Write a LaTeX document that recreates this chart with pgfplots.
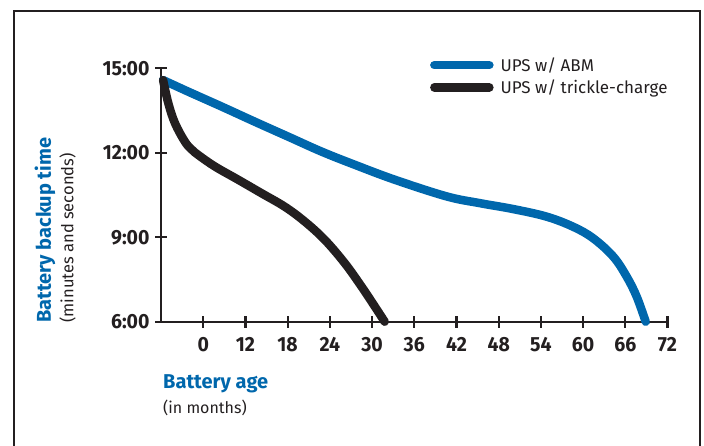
\documentclass[border=0pt]{standalone}
\usepackage{pgfplots}
\pgfplotsset{compat=1.18}
\usepackage{fontspec}
\setmainfont{Fira Sans}
\newfontfamily\condfont{Fira Sans}[FakeStretch=0.95]
\definecolor{abmblue}{RGB}{0,103,172}
\definecolor{ink}{RGB}{35,31,32}
\begin{document}
\begin{tikzpicture}[x=1pt,y=1pt]
\useasboundingbox (0,0) rectangle (704,445);
\draw[ink, line width=2.5pt] (14,-10) -- (14,434) -- (700,434) -- (700,-10);
\begin{axis}[
  at={(161pt,123.3pt)}, anchor=south west,
  scale only axis, width=506.5pt, height=253.4pt,
  xmin=0, xmax=72, ymin=6, ymax=15,
  axis lines=left, axis line style={ink, line width=2.2pt, -},
  xtick={6,12,...,72}, xticklabels={0,12,18,24,30,36,42,48,54,60,66,72},
  ytick={6,9,12,15}, yticklabels={6:00,9:00,12:00,15:00},
  tick align=center, major tick length=12pt,
  tick style={ink, line width=2.2pt},
  ticklabel style={font=\condfont\bfseries\fontsize{20.5}{24}\selectfont, text=ink},
  /pgf/number format/assume math mode=true,
  xticklabel style={yshift=-6pt},
  yticklabel style={xshift=-2pt},
  clip=false,
  legend style={draw=none, fill=none, at={(0.525,1.055)}, anchor=north west,
    font=\fontsize{17}{20}\selectfont, text=ink, row sep=5pt,
    nodes={inner sep=1pt},
    /tikz/every odd column/.append style={column sep=6pt}},
  legend cell align=left,
  legend image code/.code={\draw[#1, line width=8.5pt, line cap=round] (0pt,0pt) -- (55pt,0pt);},
]
\addplot[abmblue, line width=8.5pt, smooth, tension=0.6, line cap=round] coordinates {
 (0.3,14.58) (3.88,14.17) (8.63,13.64) (13.36,13.10) (18.10,12.57) (22.84,12.04)
 (27.58,11.57) (33.26,11.04) (40.61,10.45) (45.34,10.21) (50.08,10.00)
 (54.83,9.73) (58.61,9.37) (61.45,8.96) (64.30,8.31) (66.20,7.60) (67.62,6.89) (68.9,6.0)
};
\addplot[ink, line width=8.5pt, smooth, tension=0.6, line cap=round] coordinates {
 (0.3,14.58) (1.04,13.76) (1.99,13.05) (3.41,12.39) (4.35,12.12) (5.30,11.92) (7.68,11.51)
 (10.99,11.04) (14.31,10.56) (17.62,10.08) (20.47,9.55) (23.31,8.90) (26.15,8.07)
 (28.53,7.24) (30.42,6.53) (31.8,6.0)
};
\legend{UPS w/ ABM, UPS w/ trickle-charge}
\end{axis}
\node[rotate=90, anchor=west, inner sep=0pt, text=abmblue, font=\fontsize{20}{24}\selectfont\bfseries] at (45,122) {Battery backup time};
\node[rotate=90, anchor=west, inner sep=0pt, text=ink, font=\fontsize{16.5}{20}\selectfont] at (67.7,122) {(minutes and seconds)};
\node[anchor=west, inner sep=0pt, text=abmblue, font=\fontsize{20}{24}\selectfont\bfseries] at (163,61) {Battery age};
\node[anchor=west, inner sep=0pt, text=ink, font=\fontsize{16}{20}\selectfont] at (163,37) {(in months)};
\end{tikzpicture}
\end{document}
